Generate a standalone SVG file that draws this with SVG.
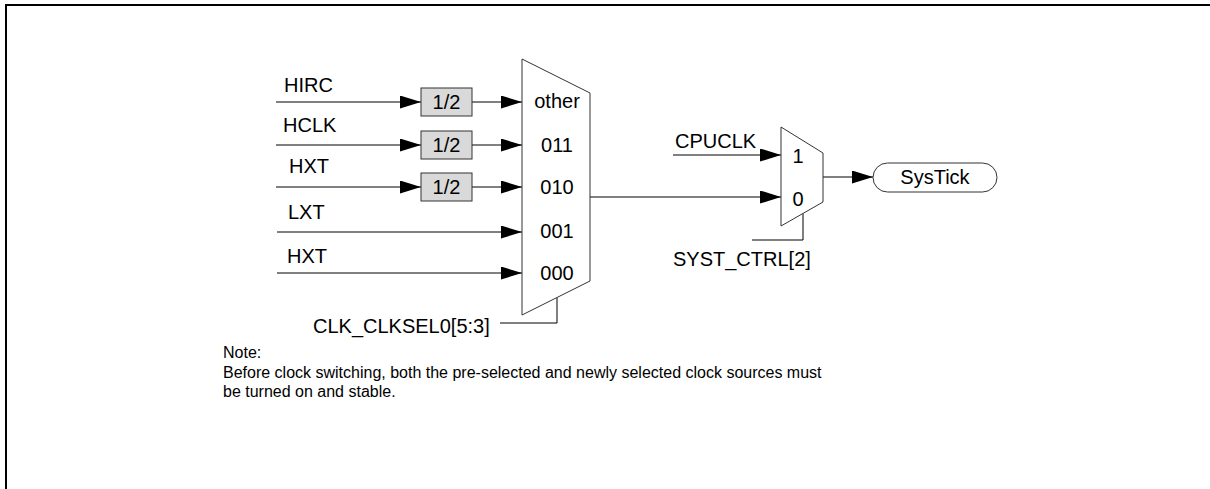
<svg xmlns="http://www.w3.org/2000/svg" width="1210" height="489" viewBox="0 0 1210 489">
<defs>
<marker id="arr" markerUnits="userSpaceOnUse" markerWidth="22" markerHeight="14" refX="21" refY="6.5" orient="auto">
<path d="M0,0 L21,6.5 L0,13 Z" fill="#000"/>
</marker>
</defs>
<style>
text{font-family:"Liberation Sans",Arial,sans-serif;font-size:20px;fill:#000}
.note{font-size:16px}
.mid{text-anchor:middle}
.mux{fill:#fff;stroke:#333;stroke-width:1}
.div{fill:#d9d9d9;stroke:#333;stroke-width:1}
.w{fill:none;stroke:#000;stroke-width:1}
.a{fill:none;stroke:#000;stroke-width:1;marker-end:url(#arr)}
.pill{fill:#fff;stroke:#333;stroke-width:1}
</style>
<rect width="1210" height="489" fill="#fff"/>
<g id="border"><path d="M6,489 V5 H1210" fill="none" stroke="#000" stroke-width="2"/></g>
<g id="connectors">
<line class="a" x1="276" y1="102" x2="421" y2="102"/>
<line class="a" x1="472" y1="102" x2="522" y2="102"/>
<line class="a" x1="276" y1="145" x2="421" y2="145"/>
<line class="a" x1="472" y1="145" x2="522" y2="145"/>
<line class="a" x1="276" y1="187" x2="421" y2="187"/>
<line class="a" x1="472" y1="187" x2="522" y2="187"/>
<line class="a" x1="277" y1="232" x2="522" y2="232"/>
<line class="a" x1="277" y1="273" x2="522" y2="273"/>
<line class="a" x1="590" y1="197" x2="781" y2="197"/>
<line class="a" x1="673" y1="155" x2="781" y2="155"/>
<line class="a" x1="823" y1="177" x2="873" y2="177"/>
<path class="w" d="M500,323 H557 V297.5"/>
<path class="w" d="M752,240 H803 V213.5"/>
</g>
<g id="labels">
<text x="284" y="92">HIRC</text>
<text x="283" y="132">HCLK</text>
<text x="289" y="173">HXT</text>
<text x="288" y="219">LXT</text>
<text x="287" y="263">HXT</text>
<text x="675" y="148">CPUCLK</text>
<text x="673" y="266">SYST_CTRL[2]</text>
<text x="313" y="333">CLK_CLKSEL0[5:3]</text>
</g>
<g id="div1"><rect class="div" x="421" y="88" width="51" height="28"/><text class="mid" x="446.5" y="109">1/2</text></g>
<g id="div2"><rect class="div" x="421" y="131" width="51" height="28"/><text class="mid" x="446.5" y="152">1/2</text></g>
<g id="div3"><rect class="div" x="421" y="173" width="51" height="28"/><text class="mid" x="446.5" y="194">1/2</text></g>
<g id="mux1">
<polygon class="mux" points="522,59 590,93 590,281 522,315"/>
<text class="mid" x="557" y="108">other</text>
<text class="mid" x="557" y="152">011</text>
<text class="mid" x="557" y="194">010</text>
<text class="mid" x="557" y="238">001</text>
<text class="mid" x="557" y="280">000</text>
</g>
<g id="mux2">
<polygon class="mux" points="781,127 823,153 823,202 781,226"/>
<text class="mid" x="798" y="163">1</text>
<text class="mid" x="798" y="206">0</text>
</g>
<g id="systick">
<rect class="pill" x="873" y="163" width="124" height="29" rx="14.5"/>
<text class="mid" x="935" y="184">SysTick</text>
</g>
<g id="note">
<text class="note" x="223" y="358">Note:</text>
<text class="note" x="223" y="378">Before clock switching, both the pre-selected and newly selected clock sources must</text>
<text class="note" x="223" y="397">be turned on and stable.</text>
</g>
</svg>
